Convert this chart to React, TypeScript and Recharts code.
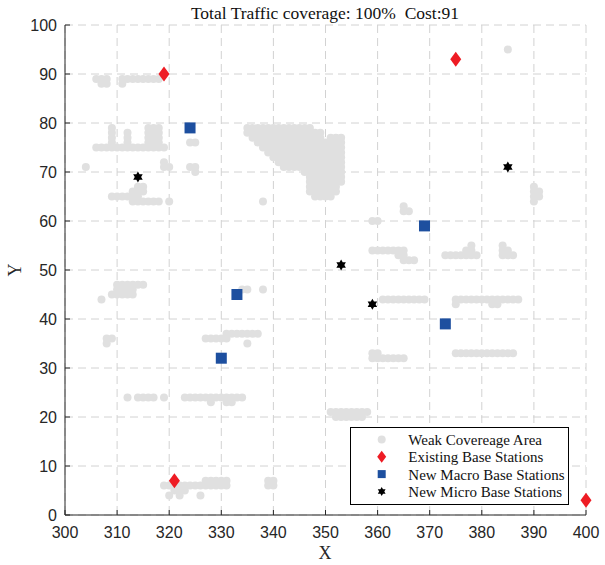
import React from "react";
import { CartesianGrid, Scatter, ScatterChart, XAxis, YAxis } from "recharts";

const xTicks = [300, 310, 320, 330, 340, 350, 360, 370, 380, 390, 400];
const yTicks = [0, 10, 20, 30, 40, 50, 60, 70, 80, 90, 100];

// weak coverage cells, listed row by row (y value + x values in that row)
const weakRows: { y: number; xs: number[] }[] = [
  { y: 95, xs: [385] },
  { y: 89, xs: [306, 307, 308, 311, 312, 313, 314, 315, 316, 317, 318] },
  { y: 88, xs: [307, 308, 311] },
  { y: 79, xs: [309, 316, 317, 318, 335, 336, 337, 338, 339, 340, 341, 342, 343, 344, 345, 346, 347] },
  { y: 78, xs: [309, 312, 316, 317, 318, 335, 336, 337, 338, 339, 340, 341, 342, 343, 344, 345, 346, 347, 348, 349] },
  { y: 77, xs: [309, 312, 316, 317, 318, 336, 337, 338, 339, 340, 341, 342, 343, 344, 345, 346, 347, 348, 349, 351, 352, 353] },
  { y: 76, xs: [309, 312, 316, 317, 318, 324, 325, 337, 338, 339, 340, 341, 342, 343, 344, 345, 346, 347, 348, 349, 350, 351, 352, 353] },
  { y: 75, xs: [306, 307, 308, 309, 310, 311, 312, 313, 314, 315, 316, 317, 318, 319, 338, 339, 340, 341, 342, 343, 344, 345, 346, 347, 348, 349, 350, 351, 352, 353] },
  { y: 74, xs: [339, 340, 341, 342, 343, 344, 345, 346, 347, 348, 349, 350, 351, 352, 353] },
  { y: 73, xs: [340, 341, 342, 343, 344, 345, 346, 347, 348, 349, 350, 351, 352, 353] },
  { y: 72, xs: [319, 341, 342, 343, 344, 345, 346, 347, 348, 349, 350, 351, 352, 353] },
  { y: 71, xs: [304, 319, 320, 324, 325, 342, 343, 344, 345, 346, 347, 348, 349, 350, 351, 352, 353] },
  { y: 70, xs: [325, 346, 347, 348, 349, 350, 351, 352, 353] },
  { y: 69, xs: [347, 348, 349, 350, 351, 352, 353] },
  { y: 68, xs: [347, 348, 349, 350, 351, 352, 353] },
  { y: 67, xs: [314, 315, 347, 348, 349, 350, 351, 352, 390] },
  { y: 66, xs: [313, 314, 315, 347, 348, 349, 350, 351, 352, 390, 391] },
  { y: 65, xs: [309, 310, 311, 312, 313, 314, 348, 349, 350, 351, 390, 391] },
  { y: 64, xs: [313, 314, 315, 316, 317, 318, 320, 338, 390] },
  { y: 63, xs: [365] },
  { y: 62, xs: [365, 366] },
  { y: 60, xs: [359, 360] },
  { y: 55, xs: [378, 384] },
  { y: 54, xs: [359, 360, 361, 362, 363, 364, 365, 377, 378, 384, 385] },
  { y: 53, xs: [364, 365, 373, 374, 375, 376, 377, 378, 379, 384, 385, 386] },
  { y: 52, xs: [365, 366, 367] },
  { y: 47, xs: [310, 311, 312, 313, 314, 315] },
  { y: 46, xs: [310, 311, 312, 313, 334, 335, 338] },
  { y: 45, xs: [309, 310, 311, 312, 313] },
  { y: 44, xs: [307, 361, 362, 363, 364, 365, 366, 367, 368, 369, 375, 376, 377, 378, 379, 380, 381, 382, 383, 384, 385, 386, 387] },
  { y: 43, xs: [375, 382, 383] },
  { y: 37, xs: [331, 332, 333, 334, 335, 336, 337] },
  { y: 36, xs: [308, 309, 327, 328, 329, 330, 331] },
  { y: 35, xs: [308, 335] },
  { y: 33, xs: [359, 360, 375, 376, 377, 378, 379, 380, 381, 382, 383, 384, 385, 386] },
  { y: 32, xs: [359, 360, 361, 362, 363, 364, 365] },
  { y: 24, xs: [312, 314, 315, 316, 317, 319, 323, 324, 325, 326, 327, 328, 329, 330, 331, 332, 333, 334] },
  { y: 23, xs: [328, 331, 332] },
  { y: 21, xs: [351, 352, 353, 354, 355, 356, 357, 358] },
  { y: 20, xs: [352, 353, 354, 355, 356, 357] },
  { y: 7, xs: [327, 328, 329, 330, 331, 339, 340] },
  { y: 6, xs: [319, 320, 321, 322, 323, 324, 325, 326, 327, 328, 329, 330, 331, 339, 340] },
  { y: 5, xs: [321, 322, 323] },
  { y: 4, xs: [320, 322, 326] },
];

const existingX = [319, 375, 321, 400];
const existingY = [90, 93, 7, 3];
const macroX = [324, 333, 330, 369, 373];
const macroY = [79, 45, 32, 59, 39];
const microX = [314, 353, 359, 385];
const microY = [69, 51, 43, 71];

const legendLabels = [
  "Weak Covereage Area",
  "Existing Base Stations",
  "New Macro Base Stations",
  "New Micro Base Stations",
];

const weakData = weakRows.flatMap((r) => r.xs.map((x) => ({ x, y: r.y })));
const existingData = existingX.map((x, i) => ({ x, y: existingY[i] }));
const macroData = macroX.map((x, i) => ({ x, y: macroY[i] }));
const microData = microX.map((x, i) => ({ x, y: microY[i] }));

const axisColor = "#262626";
const greyDot = "#e0e0e0";
const red = "#ee1c24";
const blue = "#1d4f9f";
const serif = "'Liberation Serif', 'Times New Roman', serif";
const sans = "'Liberation Sans', Arial, sans-serif";

const dot = (cx: number, cy: number, r = 4) => <circle cx={cx} cy={cy} r={r} fill={greyDot} />;
const diamond = (cx: number, cy: number, w = 5.5, h = 7.5) => (
  <path d={`M${cx},${cy - h}L${cx + w},${cy}L${cx},${cy + h}L${cx - w},${cy}Z`} fill={red} />
);
const square = (cx: number, cy: number, s = 5.5) => (
  <rect x={cx - s} y={cy - s} width={s * 2} height={s * 2} fill={blue} />
);
const hexagram = (cx: number, cy: number, R = 5.5) => {
  const pts: string[] = [];
  for (let k = 0; k < 12; k++) {
    const a = (-90 + k * 30) * (Math.PI / 180);
    const rr = k % 2 === 0 ? R : R / Math.sqrt(3);
    pts.push(`${(cx + rr * Math.cos(a)).toFixed(2)},${(cy + rr * Math.sin(a)).toFixed(2)}`);
  }
  return <polygon points={pts.join(" ")} fill="#000" />;
};

const XTick = (props: any) => {
  const { x, y, payload } = props;
  return (
    <g>
      <line x1={x} x2={x} y1={y} y2={y - 5} stroke={axisColor} />
      <text x={x} y={y + 23} textAnchor="middle" fontFamily={sans} fontSize={16} fill={axisColor}>
        {payload.value}
      </text>
    </g>
  );
};

const YTick = (props: any) => {
  const { x, y, payload } = props;
  return (
    <g>
      <line x1={x} x2={x + 5} y1={y} y2={y} stroke={axisColor} />
      <text x={x - 8} y={y + 6} textAnchor="end" fontFamily={sans} fontSize={16} fill={axisColor}>
        {payload.value}
      </text>
    </g>
  );
};

export default function App() {
  const rowY = [439.5, 456.8, 474.1, 491.4];
  const markers = [
    dot(381.7, rowY[0], 4),
    diamond(381.7, rowY[1], 4.5, 6),
    square(381.7, rowY[2], 4),
    hexagram(381.7, rowY[3], 4.5),
  ];
  return (
    <div style={{ position: "fixed", left: 0, top: 0, width: 605, height: 565, background: "#fff" }}>
      <ScatterChart width={605} height={565} margin={{ top: 25, right: 19, left: 15, bottom: 10 }}>
        <CartesianGrid stroke="#d2d2d2" strokeDasharray="8 5" />
        <XAxis
          type="number"
          dataKey="x"
          domain={[300, 400]}
          ticks={xTicks}
          interval={0}
          height={40}
          tickSize={0}
          tickMargin={0}
          tickLine={false}
          axisLine={{ stroke: axisColor }}
          tick={<XTick />}
        />
        <YAxis
          type="number"
          dataKey="y"
          domain={[0, 100]}
          ticks={yTicks}
          interval={0}
          width={50}
          tickSize={0}
          tickMargin={0}
          tickLine={false}
          axisLine={{ stroke: axisColor }}
          tick={<YTick />}
        />
        <Scatter data={weakData} isAnimationActive={false} shape={(p: any) => dot(p.cx, p.cy)} />
        <Scatter data={existingData} isAnimationActive={false} shape={(p: any) => diamond(p.cx, p.cy)} />
        <Scatter data={macroData} isAnimationActive={false} shape={(p: any) => square(p.cx, p.cy)} />
        <Scatter data={microData} isAnimationActive={false} shape={(p: any) => hexagram(p.cx, p.cy)} />
      </ScatterChart>
      <svg
        width={605}
        height={565}
        style={{ position: "absolute", left: 0, top: 0, pointerEvents: "none" }}
      >
        <text x={325} y={19} textAnchor="middle" fontFamily={serif} fontSize={17.5} fill="#111" style={{ whiteSpace: "pre" }}>
          {"Total Traffic coverage: 100%  Cost:91"}
        </text>
        <text x={325} y={559} textAnchor="middle" fontFamily={serif} fontSize={18} fill={axisColor}>
          X
        </text>
        <text transform="translate(21,270) rotate(-90)" textAnchor="middle" fontFamily={serif} fontSize={18} fill={axisColor}>
          Y
        </text>
        <rect x={350.5} y={427.5} width={218} height={77} fill="#fff" stroke="#000" />
        {legendLabels.map((label, i) => (
          <g key={label}>
            {markers[i]}
            <text x={408.3} y={rowY[i] + 5.5} fontFamily={serif} fontSize={15} fill="#111">
              {label}
            </text>
          </g>
        ))}
      </svg>
    </div>
  );
}
